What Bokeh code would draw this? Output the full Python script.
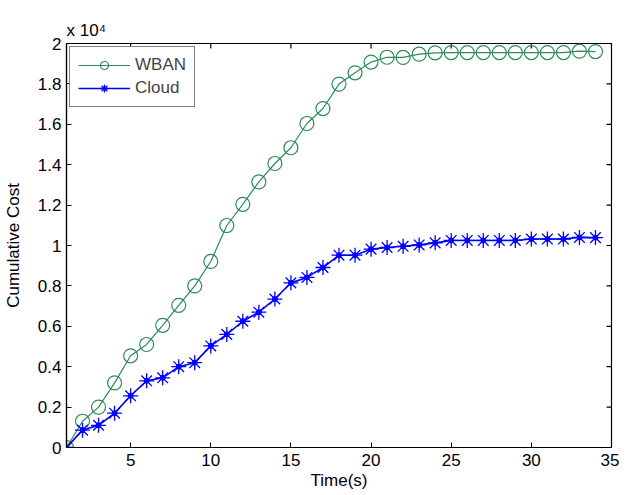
from bokeh.plotting import figure
from bokeh.models import Range1d, FixedTicker, Legend, LegendItem
from bokeh.embed import file_html
from bokeh.resources import INLINE

time_s = list(range(1, 35))
wban = [0, 1300, 2000, 3200, 4540, 5100, 6050, 7040, 8000, 9210, 10990, 12040,
        13150, 14060, 14840, 16040, 16780, 17990, 18550, 19080, 19320, 19310,
        19470, 19540, 19550, 19550, 19550, 19550, 19550, 19550, 19550, 19550,
        19620, 19600]
cloud = [0, 860, 1100, 1700, 2560, 3300, 3450, 4000, 4200, 5030, 5600, 6250,
         6700, 7350, 8150, 8420, 8910, 9520, 9520, 9820, 9900, 9960, 10030,
         10130, 10250, 10250, 10250, 10250, 10250, 10320, 10320, 10320, 10400,
         10390]
x_ticks = [5, 10, 15, 20, 25, 30, 35]
y_ticks = [0, 2000, 4000, 6000, 8000, 10000, 12000, 14000, 16000, 18000, 20000]
y_tick_labels = ["0", "0.2", "0.4", "0.6", "0.8", "1", "1.2", "1.4", "1.6", "1.8", "2"]
x_min, x_max = 1, 35
y_min, y_max = 0, 20000

GREEN = "#2e8b57"
BLUE = "#0000ff"
FONT = "Liberation Sans"
W, H = 619, 492
BL, BR, BT, BB = 59, 8, 43, 44
TICK_PX = 5

p = figure(width=W, height=H, output_backend="svg", toolbar_location=None,
           x_range=Range1d(x_min, x_max), y_range=Range1d(y_min, y_max),
           min_border_left=BL, min_border_right=BR, min_border_top=BT,
           min_border_bottom=BB, title="x 10\u2074")
p.background_fill_color = "white"
p.border_fill_color = "white"
p.outline_line_color = "black"
p.outline_line_width = 1.2
p.xgrid.visible = False
p.ygrid.visible = False

p.title.text_font = FONT
p.title.text_font_size = "17px"
p.title.text_font_style = "normal"
p.title.text_color = "black"
p.title.align = "left"
p.title.standoff = 8

def style_axis(ax):
    ax.major_tick_in = TICK_PX
    ax.major_tick_out = 0
    ax.minor_tick_line_color = None
    ax.axis_line_color = "black"
    ax.axis_line_width = 1.2
    ax.major_tick_line_color = "black"
    ax.major_label_text_font = FONT
    ax.major_label_text_color = "black"
    ax.major_label_text_font_size = "17px"
    ax.axis_label_text_font = FONT
    ax.axis_label_text_font_size = "17px"
    ax.axis_label_text_font_style = "normal"
    ax.axis_label_text_color = "black"

xa = p.xaxis[0]
xa.ticker = FixedTicker(ticks=x_ticks)
style_axis(xa)
xa.major_label_standoff = 6
xa.major_label_text_line_height = 1.0
xa.axis_label_text_line_height = 1.0
xa.axis_label = "Time(s)"
xa.axis_label_standoff = 2

ya = p.yaxis[0]
ya.ticker = FixedTicker(ticks=y_ticks)
ya.major_label_overrides = {t: l for t, l in zip(y_ticks, y_tick_labels)}
style_axis(ya)
ya.major_label_standoff = 5
ya.axis_label = "Cumulative Cost"
ya.axis_label_standoff = 12

# inward ticks on the top and right edges of the box
frame_w = W - BL - BR
frame_h = H - BT - BB
dx = (x_max - x_min) * TICK_PX / frame_w
dy = (y_max - y_min) * TICK_PX / frame_h
p.segment(x0=[x_max] * len(y_ticks), y0=y_ticks,
          x1=[x_max - dx] * len(y_ticks), y1=y_ticks,
          line_color="black", line_width=1.2)
p.segment(x0=x_ticks, y0=[y_max] * len(x_ticks),
          x1=x_ticks, y1=[y_max - dy] * len(x_ticks),
          line_color="black", line_width=1.2)

l1 = p.line(time_s, wban, line_color=GREEN, line_width=1.2)
s1 = p.scatter(time_s, wban, marker="circle", size=14, fill_color=None,
               line_color=GREEN, line_width=1.2)
l2 = p.line(time_s, cloud, line_color=BLUE, line_width=1.6)
s2 = p.scatter(time_s, cloud, marker="asterisk", size=15, line_color=BLUE,
               line_width=1.3)
d2 = p.scatter(time_s, cloud, marker="circle", size=5, fill_color=BLUE,
               line_color=BLUE)

legend = Legend(items=[LegendItem(label="WBAN", renderers=[l1, s1]),
                       LegendItem(label="Cloud", renderers=[l2, s2])],
                location="top_left")
legend.margin = 3
legend.padding = 8
legend.spacing = 3
legend.glyph_width = 52
legend.glyph_height = 20
legend.label_height = 20
legend.label_standoff = 5
legend.label_text_font = FONT
legend.label_text_font_size = "17px"
legend.border_line_color = "black"
legend.border_line_width = 1.2
legend.background_fill_color = "white"
legend.background_fill_alpha = 1
p.add_layout(legend, "center")

open("out.html", "w").write(file_html(p, INLINE))
